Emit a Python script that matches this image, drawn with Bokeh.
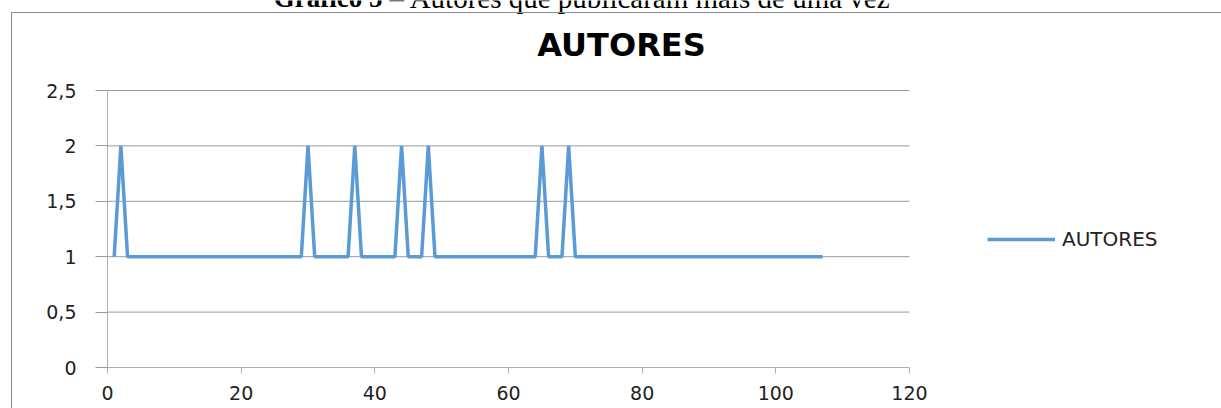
from bokeh.plotting import figure
from bokeh.models import FixedTicker, Legend, LegendItem, Label, Range1d, InlineStyleSheet
from bokeh.embed import file_html
from bokeh.resources import INLINE

# ---- data ----
caption_bold = "Gráfico 5"
caption_rest = "– Autores que publicaram mais de uma vez"
chart_title = "AUTORES"
series_name = "AUTORES"

x_values = [
    1, 2, 3, 4, 5, 6, 7, 8, 9, 10,
    11, 12, 13, 14, 15, 16, 17, 18, 19, 20,
    21, 22, 23, 24, 25, 26, 27, 28, 29, 30,
    31, 32, 33, 34, 35, 36, 37, 38, 39, 40,
    41, 42, 43, 44, 45, 46, 47, 48, 49, 50,
    51, 52, 53, 54, 55, 56, 57, 58, 59, 60,
    61, 62, 63, 64, 65, 66, 67, 68, 69, 70,
    71, 72, 73, 74, 75, 76, 77, 78, 79, 80,
    81, 82, 83, 84, 85, 86, 87, 88, 89, 90,
    91, 92, 93, 94, 95, 96, 97, 98, 99, 100,
    101, 102, 103, 104, 105, 106, 107,
]
autores = [
    1, 2, 1, 1, 1, 1, 1, 1, 1, 1,
    1, 1, 1, 1, 1, 1, 1, 1, 1, 1,
    1, 1, 1, 1, 1, 1, 1, 1, 1, 2,
    1, 1, 1, 1, 1, 1, 2, 1, 1, 1,
    1, 1, 1, 2, 1, 1, 1, 2, 1, 1,
    1, 1, 1, 1, 1, 1, 1, 1, 1, 1,
    1, 1, 1, 1, 2, 1, 1, 1, 2, 1,
    1, 1, 1, 1, 1, 1, 1, 1, 1, 1,
    1, 1, 1, 1, 1, 1, 1, 1, 1, 1,
    1, 1, 1, 1, 1, 1, 1, 1, 1, 1,
    1, 1, 1, 1, 1, 1, 1,
]
x_ticks = [0, 20, 40, 60, 80, 100, 120]
y_ticks = [0, 0.5, 1, 1.5, 2, 2.5]
y_tick_labels = ["0", "0,5", "1", "1,5", "2", "2,5"]

# ---- layout geometry (pixels) ----
W, H = 1221, 408
PLOT_L, PLOT_R, PLOT_T, PLOT_B = 107, 909, 90, 367
X_MIN, X_MAX = x_ticks[0], x_ticks[-1]
Y_MIN, Y_MAX = y_ticks[0], y_ticks[-1]
px_x = (PLOT_R - PLOT_L) / (X_MAX - X_MIN)
px_y = (PLOT_B - PLOT_T) / (Y_MAX - Y_MIN)

x_range = Range1d(X_MIN - PLOT_L / px_x, X_MAX + (W - PLOT_R) / px_x)
y_range = Range1d(Y_MIN - (H - PLOT_B) / px_y, Y_MAX + PLOT_T / px_y)

box_css = InlineStyleSheet(css="""
:host { position: relative; }
:host::after {
  content: "";
  position: absolute;
  left: 11px; top: 12px; right: 0; bottom: 0;
  border-left: 1.5px solid #8c8c8c;
  border-top: 1.5px solid #8c8c8c;
  pointer-events: none;
}
""")

p = figure(
    width=W, height=H,
    output_backend="svg", toolbar_location=None,
    x_range=x_range, y_range=y_range,
    min_border=0, min_border_left=0, min_border_right=0,
    min_border_top=0, min_border_bottom=0,
    stylesheets=[box_css],
)
p.outline_line_color = None
p.background_fill_color = "white"
p.border_fill_color = "white"
p.xgrid.visible = False
p.ygrid.visible = False

TICK_FONT = "DejaVu Sans"
AXIS_COLOR = "#b0b0b0"
GRID_COLOR = "#9a9a9a"

# horizontal gridlines spanning the x-axis extent
grid_y = [t for t in y_ticks if t > Y_MIN]
p.segment(x0=[X_MIN] * len(grid_y), y0=grid_y, x1=[X_MAX] * len(grid_y), y1=grid_y,
          line_color=GRID_COLOR, line_width=1)

p.xaxis.ticker = FixedTicker(ticks=x_ticks)
p.yaxis.ticker = FixedTicker(ticks=y_ticks)
p.yaxis.major_label_overrides = {t: l for t, l in zip(y_ticks, y_tick_labels)}
p.xaxis.fixed_location = Y_MIN
p.yaxis.fixed_location = X_MIN
p.xaxis.bounds = (X_MIN, X_MAX)
p.yaxis.bounds = (Y_MIN, Y_MAX)

for ax in (p.xaxis, p.yaxis):
    ax.axis_line_color = AXIS_COLOR
    ax.major_tick_line_color = AXIS_COLOR
    ax.minor_tick_line_color = None
    ax.major_tick_in = 0
    ax.major_label_text_font = TICK_FONT
    ax.major_label_text_font_size = "19px"
    ax.major_label_text_color = "#222222"

p.xaxis.major_tick_out = 6
p.xaxis.major_label_standoff = 12
p.yaxis.major_tick_out = 12
p.yaxis.major_tick_line_color = GRID_COLOR
p.yaxis.major_label_standoff = 19

r = p.line(x_values, autores, line_color="#5B9BD5", line_width=3.5)

legend = Legend(
    items=[LegendItem(label=series_name, renderers=[r])],
    location=(987, H - 241 - 10),
    glyph_width=68, glyph_height=20, label_standoff=7,
    padding=0, margin=0, spacing=0,
    border_line_color=None, background_fill_alpha=0,
    label_text_font=TICK_FONT, label_text_font_size="20px",
    label_text_color="#222222",
)
p.add_layout(legend)

title_label = Label(
    x=621, y=H - 44, x_units="screen", y_units="screen",
    text=chart_title, text_align="center", text_baseline="alphabetic",
    text_font="DejaVu Sans", text_font_style="bold",
    text_font_size="32px", text_color="#000000",
)
p.add_layout(title_label)

cap1 = Label(
    x=382, y=H + 3, x_units="screen", y_units="screen",
    text=caption_bold, text_align="right", text_baseline="alphabetic",
    text_font="Liberation Serif", text_font_style="bold",
    text_font_size="27px", text_color="#000000",
)
cap2 = Label(
    x=389, y=H + 3, x_units="screen", y_units="screen",
    text=caption_rest, text_align="left", text_baseline="alphabetic",
    text_font="Liberation Serif",
    text_font_size="29px", text_color="#000000",
)
p.add_layout(cap1)
p.add_layout(cap2)

open("out.html", "w").write(file_html(p, INLINE))
